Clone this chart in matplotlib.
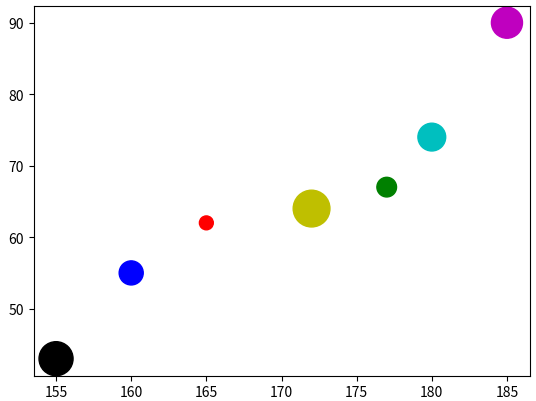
import matplotlib
matplotlib.use("Agg")
import matplotlib.pyplot as plt

# height (cm), weight (kg), marker size and colour per point
heights = [155, 160, 165, 172, 177, 180, 185]
weights = [43, 55, 62, 64, 67, 74, 90]
sizes = [600, 300, 100, 700, 200, 400, 500]
colors = ["k", "b", "r", "y", "g", "c", "m"]

plt.rcParams["font.family"] = ["Noto Sans CJK SC", "DejaVu Sans"]

fig = plt.figure(figsize=(5.36, 4.02), dpi=100)
ax = fig.add_axes([33.5 / 536, 25.5 / 402, 496 / 536, 369.6 / 402])
ax.scatter(heights, weights, s=sizes, c=colors)

fig.savefig("out.png", dpi=100)
